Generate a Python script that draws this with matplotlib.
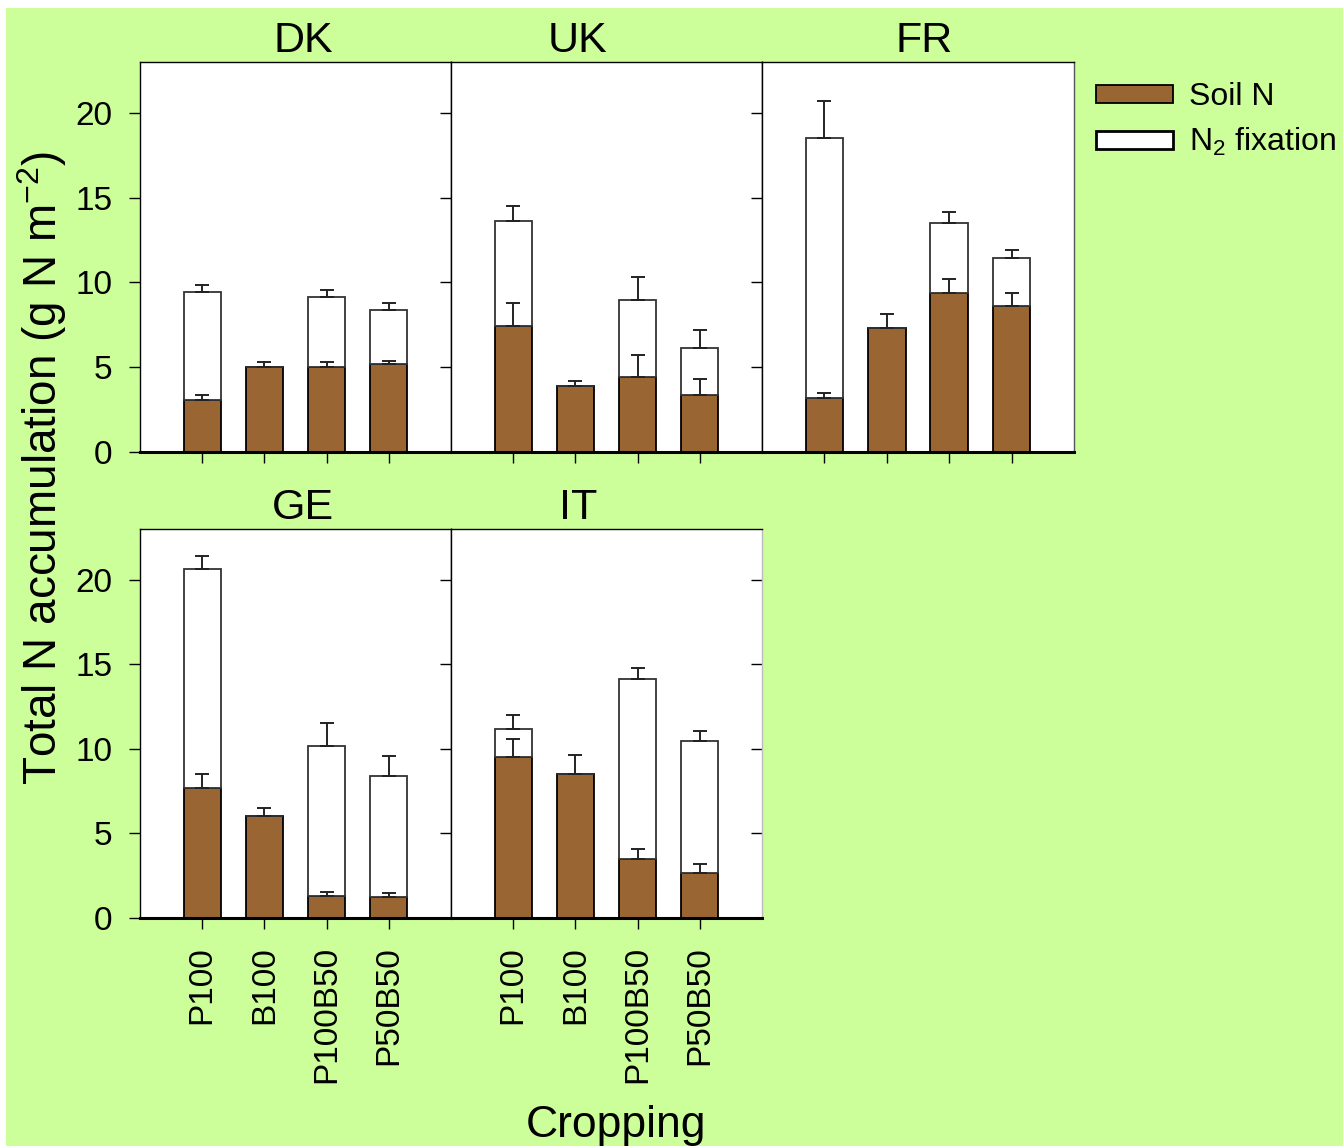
import matplotlib
matplotlib.use('Agg')
import matplotlib.pyplot as plt
import numpy as np
from matplotlib.patches import Patch, Rectangle

plt.rcParams['font.family'] = ['Liberation Sans', 'DejaVu Sans']
plt.rcParams['mathtext.fontset'] = 'custom'
plt.rcParams['mathtext.rm'] = 'Liberation Sans'
plt.rcParams['mathtext.it'] = 'Liberation Sans:italic'

# data
treatments = ['P100', 'B100', 'P100B50', 'P50B50']
countries = ['DK', 'UK', 'FR', 'GE', 'IT']

soil_n = {
    'DK': [3.05, 5.0, 5.0, 5.2],
    'UK': [7.45, 3.9, 4.4, 3.38],
    'FR': [3.17, 7.3, 9.36, 8.6],
    'GE': [7.67, 6.03, 1.3, 1.26],
    'IT': [9.53, 8.54, 3.49, 2.66],
}
soil_err = {
    'DK': [0.3, 0.3, 0.3, 0.18],
    'UK': [1.35, 0.27, 1.3, 0.92],
    'FR': [0.29, 0.86, 0.84, 0.8],
    'GE': [0.87, 0.46, 0.22, 0.2],
    'IT': [1.06, 1.12, 0.61, 0.52],
}
total_n = {
    'DK': [9.44, 5.0, 9.15, 8.4],
    'UK': [13.6, 3.9, 8.95, 6.15],
    'FR': [18.5, 7.3, 13.5, 11.46],
    'GE': [20.65, 6.03, 10.16, 8.42],
    'IT': [11.16, 8.54, 14.12, 10.47],
}
total_err = {
    'DK': [0.41, 0, 0.4, 0.4],
    'UK': [0.9, 0, 1.35, 1.05],
    'FR': [2.2, 0, 0.65, 0.45],
    'GE': [0.75, 0, 1.38, 1.13],
    'IT': [0.87, 0, 0.69, 0.61],
}

brown = '#996633'
bg = '#ccff99'

W, H = 1343, 1147
fig = plt.figure(figsize=(W / 100, H / 100), dpi=100, facecolor='white')
fig.patches.append(Rectangle((6 / W, 1 / H), 1, 1 - 9 / H, transform=fig.transFigure,
                             facecolor=bg, edgecolor='none', zorder=-10))

# panel boxes in pixels: left, top, right, bottom
boxes = {
    'DK': (140, 62, 451, 452),
    'UK': (451, 62, 762, 452),
    'FR': (762, 62, 1074, 452),
    'GE': (140, 529, 451, 918),
    'IT': (451, 529, 762, 918),
}
title_x = {'DK': 0.524, 'UK': 0.408, 'FR': 0.519, 'GE': 0.524, 'IT': 0.408}

x = np.arange(1, 5)
for c in countries:
    l, t, r, b = boxes[c]
    ax = fig.add_axes([l / W, 1 - b / H, (r - l) / W, (b - t) / H])
    ax.set_facecolor('white')
    s = np.array(soil_n[c])
    tot = np.array(total_n[c])
    fix = tot - s
    ax.bar(x, s, width=0.6, color=brown, edgecolor='black', linewidth=1.3, zorder=2)
    ax.bar(x, fix, width=0.6, bottom=s, color='white', edgecolor='#333333',
           linewidth=1.3, zorder=2)
    ax.errorbar(x, s, yerr=[np.zeros(4), soil_err[c]], fmt='none', ecolor='#222222',
                elinewidth=1.4, capsize=4.8, capthick=1.4, zorder=3)
    has_fix = fix > 0
    ax.errorbar(x[has_fix], tot[has_fix],
                yerr=[np.zeros(has_fix.sum()), np.array(total_err[c])[has_fix]],
                fmt='none', ecolor='#222222', elinewidth=1.4, capsize=4.8,
                capthick=1.4, zorder=3)

    ax.set_xlim(0, 5)
    ax.set_ylim(0, 23)
    ax.set_yticks([0, 5, 10, 15, 20])
    ax.set_xticks(x)
    ax.tick_params(axis='both', direction='out', length=8, width=1.0,
                   labelsize=24, pad=12, colors='black')
    if c in ('DK', 'GE'):
        ax.tick_params(axis='y', labelleft=True)
    else:
        ax.tick_params(axis='y', labelleft=False)
    if c in ('GE', 'IT'):
        ax.set_xticklabels(treatments, rotation=90, fontsize=24)
    else:
        ax.set_xticklabels([])
    for sp in ['top', 'left', 'right']:
        ax.spines[sp].set_linewidth(1.0)
    ax.spines['bottom'].set_linewidth(2.2)
    if c == 'FR':
        ax.spines['right'].set_color('#555555')
    if c == 'IT':
        ax.spines['right'].set_color('#bbbbbb')
        sec = ax.secondary_yaxis('right')
        sec.set_yticks([0, 5, 10, 15, 20])
        sec.tick_params(direction='in', length=8, width=1.0, labelright=False)
        sec.spines['right'].set_visible(False)

    ax.annotate(c, xy=(title_x[c], 1), xycoords='axes fraction',
                xytext=(0, 7), textcoords='offset points',
                ha='center', va='baseline', fontsize=31)

fig.text(0.031, 0.592, 'Total N accumulation (g N m$^{\\mathrm{-2}}$)', rotation=90,
         ha='center', va='center', fontsize=33)
fig.text(0.459, 0.0085, 'Cropping', ha='center', va='baseline', fontsize=32)

handles = [Patch(facecolor=brown, edgecolor='black', linewidth=1.3, label='Soil N'),
           Patch(facecolor='white', edgecolor='black', linewidth=2.0,
                 label='N$_2$ fixation')]
fig.legend(handles=handles, loc='upper left', bbox_to_anchor=(1096 / W, 1 - 82 / H),
           frameon=False, fontsize=23, handlelength=2.4, handleheight=0.5,
           handletextpad=0.5, labelspacing=0.45, borderaxespad=0, borderpad=0)

fig.savefig('out.png', dpi=100, facecolor=fig.get_facecolor())
